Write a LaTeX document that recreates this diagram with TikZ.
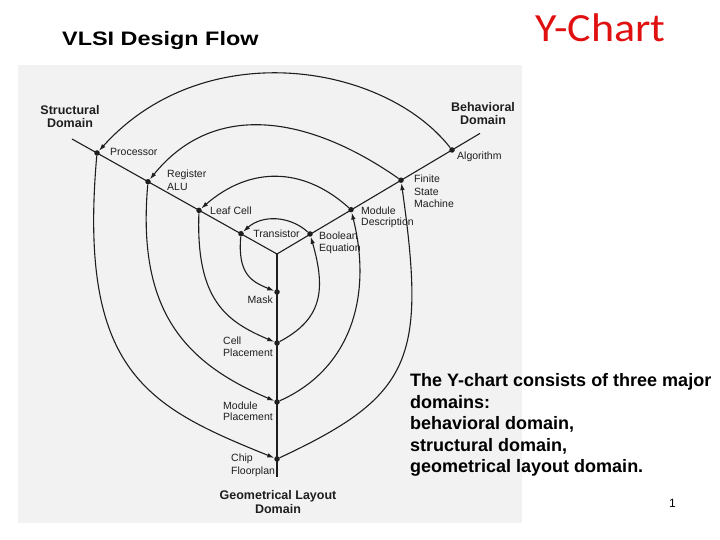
\documentclass[tikz,border=0pt]{standalone}
\usepackage{graphicx}
\usepackage{fontspec}
\setmainfont{Liberation Sans}
\newfontfamily\calib{Carlito}
\usetikzlibrary{arrows.meta}
\definecolor{ink}{HTML}{1E1E1E}
\definecolor{bgray}{HTML}{F2F2F2}
\definecolor{ttlred}{HTML}{E01010}
\begin{document}
\begin{tikzpicture}[x=1pt,y=1pt,
  dot/.style={circle,fill=ink,inner sep=0pt,minimum size=5.5pt},
  axisline/.style={draw=ink,line width=1.1pt},
  arcline/.style={draw=ink,line width=1.1pt},
  flow/.style={arcline,-{Latex[length=7pt,width=4.5pt]}},
  lbl/.style={font=\fontsize{10.5}{12}\selectfont,text=ink,inner sep=0pt},
  dom/.style={font=\fontsize{12.5}{13.5}\selectfont\bfseries,text=ink,inner sep=0pt,align=center},
]
\useasboundingbox (0,0) rectangle (720,540);
\fill[bgray] (18,17) rectangle (522,475);

% axes
\coordinate (C) at (277,286);
\coordinate (sEnd) at (72,401);
\coordinate (bEnd) at (480,406.6);
\coordinate (gEnd) at (277,63);
\draw[axisline] (sEnd) -- (C) -- (bEnd);
\draw[axisline] (C) -- (gEnd);

% dots
\node[dot] (S1) at (97,387) {};
\node[dot] (S2) at (148,358.3) {};
\node[dot] (S3) at (199,329.6) {};
\node[dot] (S4) at (241,306.3) {};
\node[dot] (B1) at (452,390) {};
\node[dot] (B2) at (401,359.8) {};
\node[dot] (B3) at (351,330.3) {};
\node[dot] (B4) at (310,306) {};
\node[dot] (G1) at (277,81) {};
\node[dot] (G2) at (277,138) {};
\node[dot] (G3) at (277,197) {};
\node[dot] (G4) at (277,248) {};

% ring 1
\draw[flow] (B1) .. controls +(128:110) and +(48:160) .. (S1);
\draw[flow] (S1) .. controls +(-95:220) and +(158:140) .. (G1);
\draw[flow] (G1) .. controls +(25:150) and +(-82:180) .. (B2);
% ring 2
\draw[flow] (B2) .. controls +(145:108) and +(51:108) .. (S2);
\draw[flow] (S2) .. controls +(-95:130) and +(157:100) .. (G2);
\draw[flow] (G2) .. controls +(24:80) and +(-76:90) .. (B3);
% ring 3
\draw[flow] (B3) .. controls +(138:66) and +(41:66) .. (S3);
\draw[flow] (S3) .. controls +(-92:90) and +(157:55) .. (G3);
\draw[flow] (G3) .. controls +(28:50) and +(-74:60) .. (B4);
% ring 4
\draw[flow] (B4) .. controls +(138:28) and +(42:28) .. (S4);
\draw[flow] (S4) .. controls +(-95:40) and +(158:28) .. (G4);

% labels
\node[lbl,anchor=west] (lProc) at (110,388) {Processor};
\node[lbl,anchor=west,align=left,font=\fontsize{10.5}{12.5}\selectfont] (lReg) at (167,359.5) {Register\\ALU};
\node[lbl,anchor=west] (lLeaf) at (210,329) {Leaf Cell};
\node[lbl] (lTran) at (276.5,306) {Transistor};
\node[lbl,anchor=west,align=left] (lBool) at (319,297) {Boolean\\Equation};
\node[lbl,anchor=west,align=left,font=\fontsize{10.5}{11.5}\selectfont] (lMod) at (361,322.5) {Module\\Description};
\node[lbl,anchor=west,align=left,font=\fontsize{10.5}{12.5}\selectfont] (lFsm) at (414,348.5) {Finite\\State\\Machine};
\node[lbl,anchor=west] (lAlg) at (457,383) {Algorithm};
\node[lbl,anchor=east] (lMask) at (273,240) {Mask};
\node[lbl,anchor=west,align=left] (lCell) at (223,193) {Cell\\Placement};
\node[lbl,anchor=west,align=left,font=\fontsize{10.5}{11.5}\selectfont] (lMpl) at (223,128.5) {Module\\Placement};
\node[lbl,anchor=west,align=left,font=\fontsize{10.5}{13}\selectfont] (lChip) at (231,74.5) {Chip\\Floorplan};

\node[dom] (dStr) at (70,423.5) {Structural\\Domain};
\node[dom] (dBeh) at (483,426.5) {Behavioral\\Domain};
\node[dom,font=\fontsize{12.5}{14}\selectfont\bfseries] (dGeo) at (278,38) {Geometrical Layout\\Domain};

% titles
\node[anchor=base west,inner sep=0pt,text=black] (tVlsi) at (62,494.5)
  {\scalebox{1.2}[1]{\fontsize{19.5}{22}\selectfont\bfseries VLSI Design Flow}};
\node[anchor=base west,inner sep=0pt,text=ttlred] (tY) at (535,498)
  {\scalebox{1.1}[1]{\calib\fontsize{40}{44}\selectfont Y-Chart}};

% text block (base anchor = baseline of last line)
\node[anchor=base west,inner sep=0pt,align=left,text=black,font=\fontsize{18}{21.5}\selectfont\bfseries] (tBlock) at (410,67)
  {The Y-chart consists of three major\\domains:\\behavioral domain,\\structural domain,\\geometrical layout domain.};
\node[anchor=base,inner sep=0pt,text=black,font=\fontsize{12}{14}\selectfont] (tNum) at (672.5,32) {1};
\end{tikzpicture}
\end{document}
